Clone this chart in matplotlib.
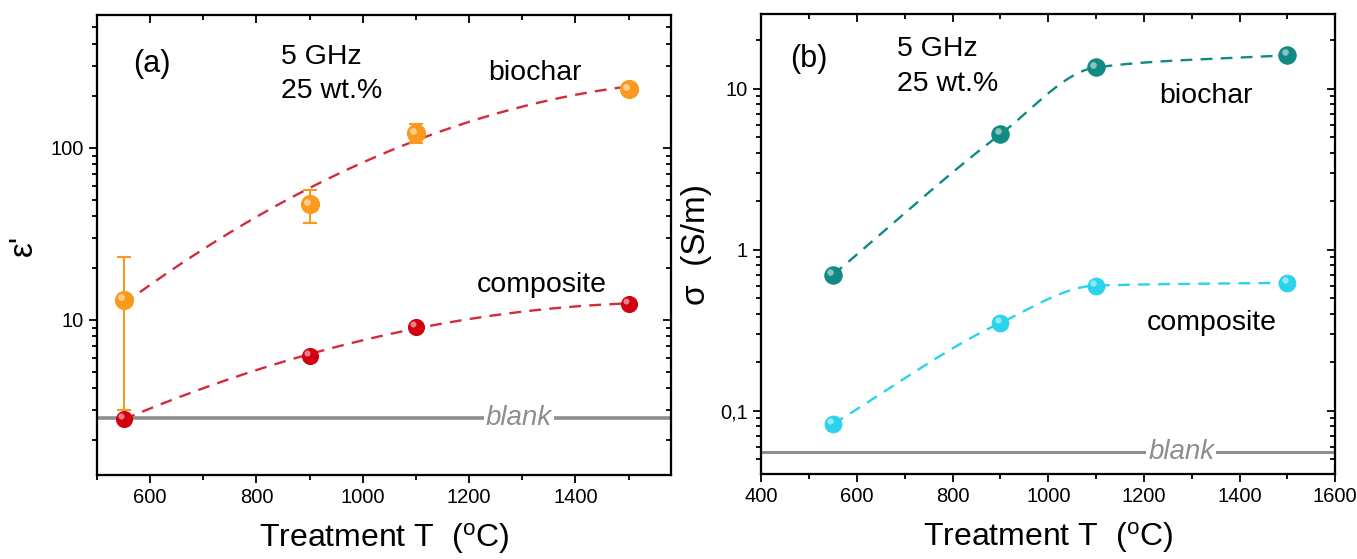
import numpy as np
import matplotlib
matplotlib.use('Agg')
import matplotlib.pyplot as plt
import matplotlib.transforms as mtransforms
from matplotlib.ticker import LogLocator, MultipleLocator, FuncFormatter, NullFormatter

plt.rcParams['font.family'] = ['Liberation Sans', 'DejaVu Sans']
plt.rcParams['mathtext.fontset'] = 'custom'
plt.rcParams['mathtext.rm'] = 'Liberation Sans'
plt.rcParams['mathtext.it'] = 'Liberation Sans:italic'

# 数据 (a) 介电常数 ε'
T = [550, 900, 1100, 1500]
eps_biochar = [13.0, 46.8, 121, 218]
eps_biochar_lo = [2.98, 36.7, 106, 218]
eps_biochar_hi = [23.1, 57.0, 138, 218]
eps_composite = [2.65, 6.17, 9.09, 12.4]
eps_blank = 2.67
fit_w = [1, 1, 1.5, 1]  # 拟合权重

# 数据 (b) 电导率 σ
sig_biochar = [0.70, 5.23, 13.6, 16.2]
sig_composite = [0.0828, 0.352, 0.60, 0.624]
sig_blank = 0.0556

c_orange = '#F99A1C'
c_red = '#D3000F'
c_dash_red = '#D42A3C'
c_teal = '#108A82'
c_cyan = '#2AD3EC'
c_gray = '#8E8E8E'


def pchip(x, y, xs):
    # 单调三次插值, 用于平滑虚线
    x = np.asarray(x, float)
    y = np.asarray(y, float)
    h = np.diff(x)
    d = np.diff(y) / h
    m = np.zeros_like(y)
    for k in range(1, len(x) - 1):
        if d[k - 1] * d[k] > 0:
            w1 = 2 * h[k] + h[k - 1]
            w2 = h[k] + 2 * h[k - 1]
            m[k] = (w1 + w2) / (w1 / d[k - 1] + w2 / d[k])
    m[0] = d[0]
    m[-1] = d[-1]
    ys = np.empty_like(xs)
    for i, xv in enumerate(xs):
        k = min(np.searchsorted(x, xv) - 1, len(x) - 2)
        k = max(k, 0)
        t = (xv - x[k]) / h[k]
        h00 = 2 * t**3 - 3 * t**2 + 1
        h10 = t**3 - 2 * t**2 + t
        h01 = -2 * t**3 + 3 * t**2
        h11 = t**3 - t**2
        ys[i] = h00 * y[k] + h10 * h[k] * m[k] + h01 * y[k + 1] + h11 * h[k] * m[k + 1]
    return ys


def ball(ax, x, y, color, ms, z=5):
    ax.plot(x, y, 'o', ms=ms, color=color, mec=color, mew=0.8, zorder=z, ls='none')
    off = mtransforms.offset_copy(ax.transData, fig=ax.figure, x=-ms * 0.16, y=ms * 0.16, units='points')
    ax.plot(x, y, 'o', ms=ms * 0.38, color='white', alpha=0.5, mec='none', transform=off, zorder=z + 1, ls='none')


def style_axes(ax, xlim, ylim):
    ax.set_yscale('log')
    ax.set_xlim(*xlim)
    ax.set_ylim(*ylim)
    for s in ax.spines.values():
        s.set_linewidth(1.5)
    ax.xaxis.set_major_locator(MultipleLocator(200))
    ax.xaxis.set_minor_locator(MultipleLocator(100))
    ax.yaxis.set_major_locator(LogLocator(base=10, numticks=10))
    ax.yaxis.set_minor_locator(LogLocator(base=10, subs=np.arange(2, 10), numticks=10))
    ax.yaxis.set_minor_formatter(NullFormatter())
    ax.tick_params(which='both', direction='out', width=1.3, labelsize=14.5, top=False, right=False)
    ax.tick_params(which='major', length=6)
    ax.tick_params(which='minor', length=3.5)
    # 上边与右边的刻度朝内
    axr = ax.twinx()
    axr.set_yscale('log')
    axr.set_ylim(*ylim)
    axr.yaxis.set_major_locator(LogLocator(base=10, numticks=10))
    axr.yaxis.set_minor_locator(LogLocator(base=10, subs=np.arange(2, 10), numticks=10))
    axr.tick_params(which='both', direction='in', width=1.3, labelright=False)
    axr.tick_params(which='major', length=6)
    axr.tick_params(which='minor', length=3.5)
    axt = ax.twiny()
    axt.set_xlim(*xlim)
    axt.xaxis.set_major_locator(MultipleLocator(200))
    axt.xaxis.set_minor_locator(MultipleLocator(100))
    axt.tick_params(which='both', direction='in', width=1.3, labeltop=False)
    axt.tick_params(which='major', length=6)
    axt.tick_params(which='minor', length=3.5)
    for a in (axr, axt):
        for s in a.spines.values():
            s.set_linewidth(1.5)


fig = plt.figure(figsize=(13.57, 5.59), dpi=100)
ax1 = fig.add_axes([0.0715, 0.150, 0.423, 0.823])
ax2 = fig.add_axes([0.561, 0.152, 0.423, 0.823])

# ---------- (a) ----------
style_axes(ax1, (500, 1580), (1.25, 590))
ax1.yaxis.set_major_formatter(FuncFormatter(lambda v, p: '%g' % v if v in (10, 100) else ''))

xs = np.linspace(550, 1500, 300)
pb = np.polyfit(T, np.log10(eps_biochar), 2, w=fit_w)
pc = np.polyfit(T, np.log10(eps_composite), 2)
ax1.plot(xs, 10 ** np.polyval(pb, xs), color=c_dash_red, lw=1.7, dashes=(5, 3.5), zorder=3)
ax1.plot(xs, 10 ** np.polyval(pc, xs), color=c_dash_red, lw=1.7, dashes=(5, 3.5), zorder=3)

ax1.axhline(eps_blank, color=c_gray, lw=2.6, zorder=2)
ax1.text(1294, eps_blank, 'blank', style='italic', color=c_gray, fontsize=20, ha='center', va='center',
         bbox=dict(facecolor='white', edgecolor='none', pad=1.5), zorder=2.5)

yerr = [np.array(eps_biochar) - np.array(eps_biochar_lo), np.array(eps_biochar_hi) - np.array(eps_biochar)]
ax1.errorbar(T, eps_biochar, yerr=yerr, fmt='none', ecolor=c_orange, elinewidth=1.5, capsize=5, capthick=1.5, zorder=4)
ball(ax1, T, eps_biochar, c_orange, 13)
ball(ax1, T, eps_composite, c_red, 11.5)

ax1.text(0.063, 0.893, '(a)', transform=ax1.transAxes, fontsize=22, va='center')
ax1.text(0.32, 0.909, '5 GHz', transform=ax1.transAxes, fontsize=20.5, va='center')
ax1.text(0.32, 0.835, '25 wt.%', transform=ax1.transAxes, fontsize=20.5, va='center')
ax1.text(0.763, 0.874, 'biochar', transform=ax1.transAxes, fontsize=20.5, va='center', ha='center')
ax1.text(0.774, 0.413, 'composite', transform=ax1.transAxes, fontsize=20.5, va='center', ha='center')

ax1.set_xlabel('Treatment T  ($^{\\mathregular{o}}$C)', fontsize=23, labelpad=10)
ax1.set_ylabel("ε'", fontsize=24, labelpad=8)

# ---------- (b) ----------
style_axes(ax2, (400, 1600), (0.0405, 29.2))
ax2.yaxis.set_major_formatter(FuncFormatter(lambda v, p: {0.1: '0,1', 1: '1', 10: '10'}.get(round(v, 3), '')))

xs2 = np.linspace(550, 1500, 300)
ax2.plot(xs2, 10 ** pchip(T, np.log10(sig_biochar), xs2), color=c_teal, lw=1.7, dashes=(5, 3.5), zorder=3)
ax2.plot(xs2, 10 ** pchip(T, np.log10(sig_composite), xs2), color=c_cyan, lw=1.7, dashes=(5, 3.5), zorder=3)

ax2.axhline(sig_blank, color=c_gray, lw=2.2, zorder=2)
ax2.text(1278, sig_blank, 'blank', style='italic', color=c_gray, fontsize=20, ha='center', va='center',
         bbox=dict(facecolor='white', edgecolor='none', pad=1.5), zorder=2.5)

ball(ax2, T, sig_biochar, c_teal, 12.5)
ball(ax2, T, sig_composite, c_cyan, 12)

ax2.text(0.05, 0.902, '(b)', transform=ax2.transAxes, fontsize=22, va='center')
ax2.text(0.237, 0.924, '5 GHz', transform=ax2.transAxes, fontsize=20.5, va='center')
ax2.text(0.237, 0.847, '25 wt.%', transform=ax2.transAxes, fontsize=20.5, va='center')
ax2.text(0.775, 0.821, 'biochar', transform=ax2.transAxes, fontsize=20.5, va='center', ha='center')
ax2.text(0.784, 0.329, 'composite', transform=ax2.transAxes, fontsize=20.5, va='center', ha='center')

ax2.set_xlabel('Treatment T  ($^{\\mathregular{o}}$C)', fontsize=23, labelpad=10)
ax2.set_ylabel('σ  (S/m)', fontsize=24, labelpad=6)

fig.savefig('out.png', dpi=100)
